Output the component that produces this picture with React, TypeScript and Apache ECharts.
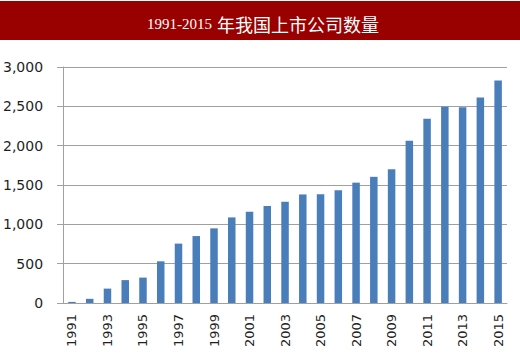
import React, { useEffect, useRef } from "react";
import * as echarts from "echarts";

const years = [
  "1991", "1992", "1993", "1994", "1995", "1996", "1997", "1998", "1999", "2000",
  "2001", "2002", "2003", "2004", "2005", "2006", "2007", "2008", "2009", "2010",
  "2011", "2012", "2013", "2014", "2015",
];
const companies = [
  14, 53, 183, 291, 323, 530, 755, 851, 949, 1088,
  1160, 1232, 1287, 1380, 1381, 1434, 1530, 1604, 1700, 2063,
  2342, 2494, 2489, 2613, 2827,
];
const titleYears = "1991-2015";
const titleText = "年我国上市公司数量";

export default function App() {
  const ref = useRef<HTMLDivElement>(null);
  useEffect(() => {
    if (!ref.current) return;
    const chart = echarts.init(ref.current, undefined, { renderer: "svg" });
    chart.setOption({
      animation: false,
      backgroundColor: "#ffffff",
      graphic: [
        {
          type: "rect",
          left: 0,
          top: 1,
          shape: { width: 520, height: 39 },
          style: { fill: "#990000" },
          z: -1,
        },
      ],
      title: {
        text: "{a|" + titleYears + "} {b|" + titleText + "}",
        left: 142,
        top: 10,
        textStyle: {
          fontWeight: "normal",
          rich: {
            a: { fontFamily: "Liberation Serif", fontSize: 15, fontWeight: "normal", color: "#ffffff" },
            b: { fontFamily: "Noto Sans CJK SC", fontSize: 18, fontWeight: "normal", color: "#ffffff" },
          },
        },
      },
      grid: { left: 63, right: 13, top: 67, bottom: 56 },
      xAxis: {
        type: "category",
        data: years,
        axisLine: { lineStyle: { color: "#A0A0A0", width: 1 } },
        axisTick: { interval: 1, length: 5, lineStyle: { color: "#A0A0A0" } },
        axisLabel: {
          interval: 1,
          rotate: 90,
          margin: 11,
          fontFamily: "DejaVu Sans",
          fontSize: 13,
          color: "#1F1F1F",
        },
      },
      yAxis: {
        type: "value",
        min: 0,
        max: 3000,
        interval: 500,
        axisLine: { show: true, lineStyle: { color: "#A0A0A0", width: 1 } },
        axisTick: { show: true, length: 6, lineStyle: { color: "#A0A0A0" } },
        splitLine: { lineStyle: { color: "#A0A0A0", width: 1 } },
        axisLabel: {
          margin: 20,
          fontFamily: "DejaVu Sans",
          fontSize: 14,
          color: "#1F1F1F",
          formatter: (v: number) => v.toLocaleString("en-US"),
        },
      },
      series: [
        {
          type: "bar",
          data: companies,
          barWidth: 7.5,
          itemStyle: { color: "#4A7EBB" },
        },
      ],
    });
    return () => chart.dispose();
  }, []);
  return (
    <div
      ref={ref}
      style={{ position: "absolute", left: 0, top: 0, width: 520, height: 359 }}
    />
  );
}
